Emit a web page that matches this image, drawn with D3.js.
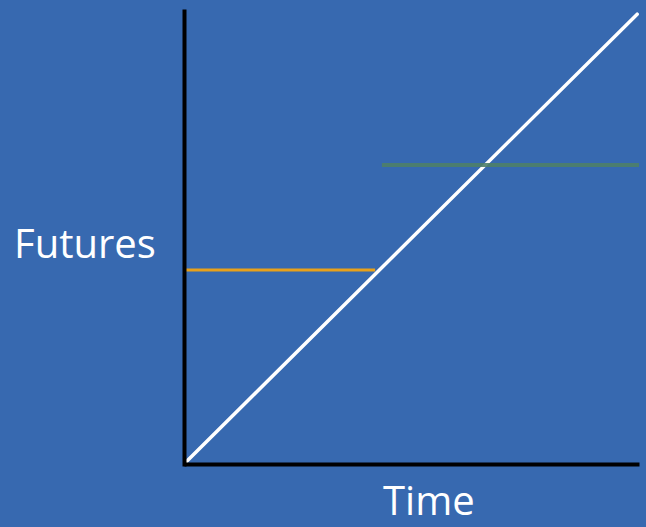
<!DOCTYPE html>
<html>
<head>
<meta charset="utf-8">
<script src="https://cdn.jsdelivr.net/npm/d3@7"></script>
<style>
  html, body { margin: 0; padding: 0; background: #3769b0; }
  svg { display: block; }
</style>
</head>
<body>
<div id="chart"></div>
<script>
// Daten (Werte in Achseneinheiten 0..10)
const priceLine = [[0.05, 0.05], [9.96, 9.93]];
const orangeLevel = [[0.04, 4.28], [4.2, 4.28]];
const greenLevel = [[4.35, 6.6], [10, 6.6]];
const axisLabels = ["Time", "Futures"];

const width = 646;
const height = 527;

const svg = d3.select("#chart")
    .append("svg")
    .attr("width", width)
    .attr("height", height);

svg.append("rect")
    .attr("width", width)
    .attr("height", height)
    .attr("fill", "#3769b0");

// Skalen
const x = d3.scaleLinear().domain([0, 10]).range([184, 639]);
const y = d3.scaleLinear().domain([0, 10]).range([464, 11]);

const line = d3.line()
    .x(d => x(d[0]))
    .y(d => y(d[1]));

// Linien
svg.append("path")
    .datum(orangeLevel)
    .attr("d", line)
    .attr("fill", "none")
    .attr("stroke", "#e8a11a")
    .attr("stroke-width", 3);

svg.append("path")
    .datum(priceLine)
    .attr("d", line)
    .attr("fill", "none")
    .attr("stroke", "#ffffff")
    .attr("stroke-width", 3.5)
    .attr("stroke-linecap", "round");

svg.append("path")
    .datum(greenLevel)
    .attr("d", line)
    .attr("fill", "none")
    .attr("stroke", "#4e8069")
    .attr("stroke-opacity", 0.9)
    .attr("stroke-width", 4);

// Achsen ohne Ticks
const xAxis = svg.append("g")
    .attr("transform", `translate(0,${y(0)})`)
    .call(d3.axisBottom(x).ticks(0).tickSizeOuter(0));

const yAxis = svg.append("g")
    .attr("transform", `translate(${x(0)},0)`)
    .call(d3.axisLeft(y).ticks(0).tickSizeOuter(0));

xAxis.select(".domain")
    .attr("stroke", "#000")
    .attr("stroke-width", 4);

yAxis.select(".domain")
    .attr("stroke", "#000")
    .attr("stroke-width", 4)
    .attr("stroke-linecap", "square");

// Beschriftungen
svg.append("text")
    .attr("x", 383)
    .attr("y", 515)
    .attr("fill", "#fff")
    .attr("font-family", "Open Sans")
    .attr("font-size", "40px")
    .text(axisLabels[0]);

svg.append("text")
    .attr("x", 14)
    .attr("y", 258)
    .attr("fill", "#fff")
    .attr("font-family", "Open Sans")
    .attr("font-size", "40px")
    .text(axisLabels[1]);
</script>
</body>
</html>
